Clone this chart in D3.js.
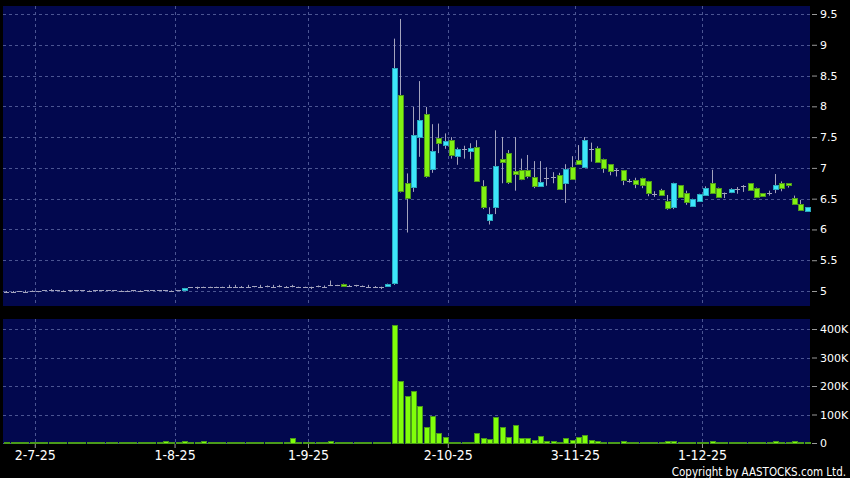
<!DOCTYPE html>
<html><head><meta charset="utf-8">
<script src="https://cdn.jsdelivr.net/npm/d3@7"></script>
<style>
html,body{margin:0;padding:0;background:#000;}
svg{display:block;}
</style></head>
<body><svg id="c" width="850" height="478"></svg>
<script>
// index of the first candle (0 = 2 Jul 2025)
const firstIndex = -5;

const opens = [
  4.99,4.99,5.00,4.99,5.00,
  5.00,5.01,5.02,5.01,5.00,5.01,5.01,5.01,5.00,5.01,
  5.01,5.01,5.01,5.00,5.00,5.01,5.00,5.01,5.01,5.01,
  5.01,5.00,5.01,5.01,5.06,5.06,5.07,5.07,5.06,5.07,
  5.07,5.07,5.07,5.07,5.08,5.07,5.08,5.07,5.08,5.07,
  5.08,5.06,5.06,5.06,5.08,5.07,5.09,5.09,5.12,5.08,
  5.09,5.08,5.07,5.07,5.07,5.08,5.13,8.19,6.75,6.68,
  7.50,7.87,6.98,7.48,7.36,7.46,7.20,7.30,7.28,7.34,
  6.70,6.15,6.36,7.14,7.24,6.95,6.96,6.96,6.85,6.71,
  6.84,6.86,6.89,6.77,7.02,7.13,7.01,7.30,7.32,7.15,
  7.06,6.96,6.96,6.79,6.81,6.83,6.79,6.57,6.64,6.46,
  6.36,6.72,6.59,6.38,6.45,6.56,6.75,6.68,6.59,6.60,
  6.65,6.70,6.75,6.68,6.59,6.60,6.67,6.75,6.75,6.51,
  6.41,6.30
];
const highs = [
  5.00,5.00,5.00,5.01,5.01,
  5.00,5.01,5.03,5.01,5.01,5.01,5.01,5.01,5.01,5.01,
  5.01,5.01,5.01,5.01,5.01,5.01,5.01,5.01,5.01,5.01,
  5.01,5.01,5.01,5.05,5.06,5.07,5.07,5.07,5.07,5.07,
  5.10,5.10,5.08,5.10,5.08,5.10,5.09,5.10,5.10,5.08,
  5.10,5.07,5.07,5.07,5.09,5.09,5.17,5.10,5.12,5.10,
  5.10,5.09,5.10,5.08,5.07,5.12,9.10,9.42,6.91,7.99,
  8.41,7.99,7.71,7.72,7.56,7.50,7.33,7.36,7.40,7.45,
  6.80,6.36,7.61,7.50,7.29,7.50,7.15,7.21,7.11,7.11,
  7.01,6.93,6.92,7.06,7.19,7.37,7.50,7.41,7.35,7.15,
  7.06,6.99,6.96,6.82,6.84,6.84,6.79,6.62,6.66,6.56,
  6.76,6.72,6.63,6.50,6.58,6.70,6.97,6.68,6.60,6.67,
  6.69,6.72,6.75,6.68,6.59,6.63,6.90,6.78,6.75,6.55,
  6.48,6.36
];
const lows = [
  4.98,4.98,4.99,4.97,4.99,
  4.98,5.00,5.01,5.00,4.99,4.99,5.00,5.00,4.99,4.99,
  5.00,5.00,5.00,4.99,4.99,4.99,5.00,5.00,5.00,5.00,
  5.00,4.99,5.00,5.01,5.05,5.03,5.06,5.06,5.06,5.06,
  5.06,5.06,5.06,5.06,5.06,5.06,5.06,5.06,5.06,5.06,
  5.06,5.06,5.05,5.03,5.06,5.06,5.08,5.08,5.08,5.07,
  5.07,5.07,5.06,5.06,5.03,5.08,5.10,6.60,5.95,6.61,
  7.18,6.84,6.92,7.24,7.31,7.15,7.05,7.15,7.14,6.78,
  6.33,6.08,6.25,6.75,6.74,6.63,6.80,6.83,6.67,6.70,
  6.71,6.75,6.67,6.43,6.83,7.06,7.00,7.10,7.09,6.92,
  6.88,6.86,6.72,6.76,6.67,6.67,6.54,6.53,6.56,6.32,
  6.33,6.53,6.40,6.37,6.45,6.55,6.59,6.53,6.51,6.59,
  6.58,6.61,6.63,6.54,6.54,6.55,6.59,6.62,6.68,6.41,
  6.31,6.29
];
const closes = [
  4.99,4.99,5.00,4.99,5.00,
  5.00,5.01,5.02,5.01,5.00,5.01,5.01,5.01,5.00,5.01,
  5.01,5.01,5.01,5.00,5.00,5.01,5.00,5.01,5.01,5.01,
  5.01,5.00,5.01,5.05,5.06,5.06,5.07,5.07,5.06,5.07,
  5.07,5.07,5.07,5.07,5.08,5.07,5.08,5.07,5.08,5.07,
  5.08,5.06,5.06,5.06,5.08,5.07,5.09,5.09,5.08,5.08,
  5.09,5.08,5.07,5.07,5.07,5.12,8.63,6.63,6.50,7.53,
  7.78,6.86,7.28,7.40,7.43,7.22,7.31,7.30,7.33,6.78,
  6.36,6.25,7.03,7.09,6.77,6.90,6.81,6.87,6.71,6.77,
  6.84,6.86,6.67,6.99,6.83,7.06,7.45,7.30,7.09,7.01,
  6.95,6.96,6.79,6.79,6.74,6.71,6.59,6.57,6.56,6.34,
  6.75,6.53,6.44,6.49,6.57,6.67,6.59,6.53,6.59,6.65,
  6.65,6.70,6.63,6.54,6.54,6.60,6.73,6.67,6.72,6.41,
  6.31,6.36
];
// volume in thousands of shares
const volumes = [
  1,0.5,1,0.5,1,
  0.5,1,1,0.5,0.5,1,1,3,1,3,
  1,0.5,1,2,1,1,2,1,0.5,1,
  7,1,1,8,2,1,7,1,3,3,
  3,3,1,2,1,2,3,3,2,2,
  17,1,0.5,1,1,1,7,3,3,3,
  3,1,2,1,1,2,414,219,165,182,
  129,55,95,36,20,3,2,1.5,1,34,
  19,13,92,57,22,62,16,17,10,26,
  7,7,5,17,9,20,27,9,6,5,
  5,4,8,5,5,3,3,3,2,7,
  6,5,4,2,2,2,6,3,2,3,
  2,2,2,2,1,2,7,3,2,7,
  3,1
];

const tickIndex = [0,22,43,65,85,105];
const tickLabels = ["2-7-25","1-8-25","1-9-25","2-10-25","3-11-25","1-12-25"];
const priceTicks = [5,5.5,6,6.5,7,7.5,8,8.5,9,9.5];
const volumeTicks = [0,100,200,300,400];

const W = 850, H = 478;
const L = 3, R = 810;
const pTop = 6, pBot = 306, vTop = 319, vBot = 444;
const n = opens.length;

const svg = d3.select("#c");
svg.append("rect").attr("width", W).attr("height", H).attr("fill", "#000");

const x = d3.scaleLinear().domain([firstIndex, firstIndex + n]).range([L, R]);
const y = d3.scaleLinear().domain([5, 9.5]).range([291, 14]);
const yv = d3.scaleLinear().domain([0, 400]).range([443, 329]);
const cx = i => x(firstIndex + i + 0.5);

const navy = "#02084e";
const gridCol = "#4b5592";

// panels
svg.append("rect").attr("x", L).attr("y", pTop).attr("width", R - L).attr("height", pBot - pTop).attr("fill", navy);
svg.append("rect").attr("x", L).attr("y", vTop).attr("width", R - L).attr("height", vBot - vTop).attr("fill", navy);

const grid = svg.append("g").attr("stroke", gridCol).attr("stroke-width", 1).attr("stroke-dasharray", "3,3").attr("shape-rendering", "crispEdges");
priceTicks.forEach(t => {
  grid.append("line").attr("x1", L).attr("x2", R).attr("y1", Math.round(y(t)) + 0.5).attr("y2", Math.round(y(t)) + 0.5);
});
volumeTicks.forEach(t => {
  grid.append("line").attr("x1", L).attr("x2", R).attr("y1", Math.round(yv(t)) + 0.5).attr("y2", Math.round(yv(t)) + 0.5);
});
tickIndex.forEach(t => {
  const xx = Math.round(x(t)) + 0.5;
  grid.append("line").attr("x1", xx).attr("x2", xx).attr("y1", pTop).attr("y2", pBot);
  grid.append("line").attr("x1", xx).attr("x2", xx).attr("y1", vTop).attr("y2", vBot);
});

// candles
const cyanFill = "#3de6fb", cyanStroke = "#2aa9bd";
const greenFill = "#80f212", greenStroke = "#4f9a1c";
const wickCol = "#a3a3bd";
const cg = svg.append("g");
for (let i = 0; i < n; i++) {
  const c = Math.round(cx(i));
  cg.append("line").attr("x1", c + 0.5).attr("x2", c + 0.5)
    .attr("y1", y(highs[i])).attr("y2", y(lows[i]))
    .attr("stroke", wickCol).attr("stroke-width", 1);
  const o = opens[i], cl = closes[i];
  if (o === cl) {
    cg.append("line").attr("x1", c - 2).attr("x2", c + 3)
      .attr("y1", Math.round(y(o)) + 0.5).attr("y2", Math.round(y(o)) + 0.5)
      .attr("stroke", wickCol).attr("stroke-width", 1);
  } else {
    const up = cl > o;
    const top = y(Math.max(o, cl)), bot = y(Math.min(o, cl));
    cg.append("rect").attr("x", c - 2 + 0.5).attr("y", Math.round(top) + 0.5)
      .attr("width", 5).attr("height", Math.max(1, Math.round(bot - top)))
      .attr("fill", up ? cyanFill : greenFill)
      .attr("stroke", up ? cyanStroke : greenStroke).attr("stroke-width", 1);
  }
}

// volume bars
const vg = svg.append("g");
for (let i = 0; i < n; i++) {
  const c = Math.round(cx(i));
  const top = Math.round(yv(volumes[i]));
  const h = Math.max(1, 443 - top);
  vg.append("rect").attr("x", c - 2 + 0.5).attr("y", 443 - h + 0.5)
    .attr("width", 5).attr("height", h)
    .attr("fill", "#80ff0a").attr("stroke", "#4a9a1a").attr("stroke-width", 1);
}

// axes
const axisFont = "DejaVu Sans, sans-serif";
function styleAxis(g) {
  g.select(".domain").remove();
  g.selectAll(".tick line").attr("stroke", "#9a9a9a");
  g.selectAll(".tick text").attr("fill", "#fff").style("font-family", axisFont).style("font-size", "11px");
}
svg.append("g").attr("transform", "translate(812,0)")
  .call(d3.axisRight(y).tickValues(priceTicks).tickSize(5).tickPadding(3).tickFormat(d3.format("")))
  .call(styleAxis);
svg.append("g").attr("transform", "translate(812,0)")
  .call(d3.axisRight(yv).tickValues(volumeTicks).tickSize(5).tickPadding(3).tickFormat(d => d ? d + "K" : "0"))
  .call(styleAxis);

const narrow = "Liberation Sans Narrow, DejaVu Sans Condensed, Arial Narrow, sans-serif";
const xa = svg.append("g").attr("transform", "translate(0," + vBot + ")")
  .call(d3.axisBottom(x).tickValues(tickIndex).tickSize(4).tickPadding(2).tickFormat((d, i) => tickLabels[i]));
xa.select(".domain").remove();
xa.selectAll(".tick line").attr("stroke", "#9a9a9a");
xa.selectAll(".tick text").attr("fill", "#fff")
  .style("font-family", narrow)
  .style("font-size", "14px");

svg.append("text").attr("x", 846).attr("y", 476).attr("text-anchor", "end")
  .attr("fill", "#fff")
  .style("font-family", narrow)
  .style("font-size", "11.5px")
  .text("Copyright by AASTOCKS.com Ltd.");
</script>
</body></html>
